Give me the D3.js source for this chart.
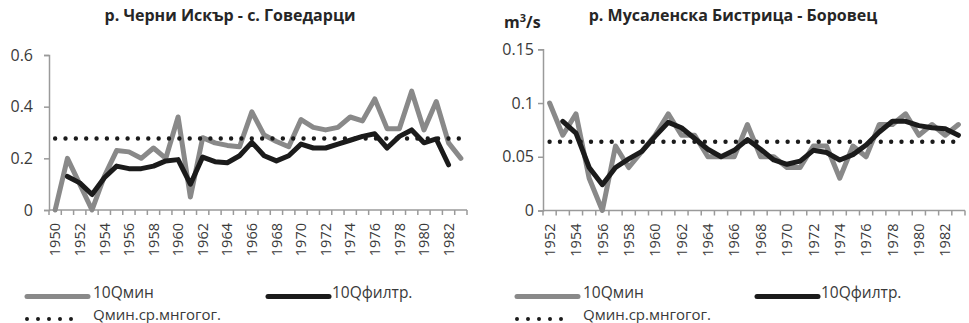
<!DOCTYPE html>
<html>
<head>
<meta charset="utf-8">
<script src="https://cdn.jsdelivr.net/npm/d3@7"></script>
<style>
  html, body { margin: 0; padding: 0; background: #fff; }
  svg { display: block; font-family: "Open Sans", sans-serif; }
</style>
</head>
<body>
<svg id="chart" width="969" height="323"></svg>
<script>
// ---------- data: left panel (р. Черни Искър - с. Говедарци) ----------
const yearsA = [1950,1951,1952,1953,1954,1955,1956,1957,1958,1959,1960,1961,1962,1963,1964,1965,1966,1967,1968,1969,1970,1971,1972,1973,1974,1975,1976,1977,1978,1979,1980,1981,1982,1983];
const qminA = [0,0.2,0.1,0,0.13,0.23,0.225,0.2,0.24,0.2,0.36,0.05,0.28,0.26,0.25,0.245,0.38,0.29,0.265,0.245,0.35,0.32,0.31,0.32,0.36,0.345,0.43,0.315,0.315,0.46,0.31,0.42,0.26,0.2];
const filtA = [null,0.13,0.105,0.06,0.125,0.17,0.16,0.16,0.17,0.19,0.195,0.1,0.205,0.187,0.183,0.21,0.262,0.21,0.19,0.21,0.255,0.24,0.24,0.255,0.27,0.285,0.295,0.24,0.285,0.31,0.26,0.275,0.175,null];
const meanA = [0.277];
const yTicksA = [0, 0.2, 0.4, 0.6];
const yTickLabelsA = ["0", "0.2", "0.4", "0.6"];

// ---------- data: right panel (р. Мусаленска Бистрица - Боровец) ----------
const yearsB = [1952,1953,1954,1955,1956,1957,1958,1959,1960,1961,1962,1963,1964,1965,1966,1967,1968,1969,1970,1971,1972,1973,1974,1975,1976,1977,1978,1979,1980,1981,1982,1983];
const qminB = [0.1,0.07,0.09,0.03,0,0.06,0.04,0.055,0.07,0.09,0.07,0.07,0.05,0.05,0.05,0.08,0.05,0.05,0.04,0.04,0.06,0.06,0.03,0.06,0.05,0.08,0.08,0.09,0.07,0.08,0.07,0.08];
const filtB = [null,0.083,0.072,0.04,0.024,0.04,0.048,0.055,0.069,0.082,0.077,0.067,0.057,0.05,0.056,0.066,0.057,0.047,0.043,0.046,0.056,0.054,0.047,0.052,0.061,0.073,0.083,0.083,0.079,0.077,0.076,0.07];
const meanB = [0.064];
const yTicksB = [0, 0.05, 0.1, 0.15];
const yTickLabelsB = ["0", "0.05", "0.1", "0.15"];

// ---------- texts ----------
const titleA = "р. Черни Искър - с. Говедарци";
const titleB = "р. Мусаленска Бистрица - Боровец";
const legendNames = ["10Qмин", "10Qфилтр.", "Qмин.ср.мнгогог."];

// ---------- styles ----------
const GRAY = "#898989", BLACK = "#1b1b1b", AXIS = "#9a9a9a", TEXT = "#3a3a3a";

const svg = d3.select("#chart");

function panel(o) {
  const g = svg.append("g");
  const x = d3.scaleBand().domain(o.years).range([o.x0, o.x1]).paddingInner(0).paddingOuter(0);
  const y = d3.scaleLinear().domain([0, o.yMax]).range([o.yBottom, o.yTop]);
  const cx = d => x(d) + x.bandwidth() / 2;

  // y axis
  const ya = d3.axisLeft(y).tickValues(o.yTicks).tickSize(5).tickPadding(o.yPad)
    .tickFormat((d, i) => o.yLabels[i]);
  const yg = g.append("g").attr("transform", `translate(${o.x0},0)`).call(ya);
  yg.select(".domain").attr("stroke", AXIS).attr("stroke-width", 1.5);
  yg.selectAll(".tick line").attr("stroke", AXIS).attr("stroke-width", 1.5);
  yg.selectAll(".tick text").attr("fill", TEXT).style("font-size", "16px").style("font-family", "'Open Sans', sans-serif");

  // x axis (ticks at category boundaries)
  const xg = g.append("g");
  xg.append("line").attr("x1", o.x0).attr("x2", o.x1).attr("y1", y(0)).attr("y2", y(0))
    .attr("stroke", AXIS).attr("stroke-width", 1.5);
  const bounds = o.years.map(d => x(d)).concat([x(o.years[o.years.length - 1]) + x.bandwidth()]);
  xg.selectAll("line.tk").data(bounds).join("line").attr("class", "tk")
    .attr("x1", d => d).attr("x2", d => d).attr("y1", y(0)).attr("y2", y(0) + 5)
    .attr("stroke", AXIS).attr("stroke-width", 1.5);
  xg.selectAll("text").data(o.years.filter(d => d % 2 === 0)).join("text")
    .attr("transform", d => `translate(${cx(d)},${y(0) + 13}) rotate(-90)`)
    .attr("text-anchor", "end").attr("dy", "0.36em")
    .attr("fill", TEXT).style("font-size", "14.5px")
    .text(d => d);

  // series
  const lineGen = d3.line().defined(d => d[1] != null).x(d => cx(d[0])).y(d => y(d[1]));
  g.append("path").datum(o.years.map((d, i) => [d, o.qmin[i]]))
    .attr("d", lineGen).attr("fill", "none").attr("stroke", GRAY).attr("stroke-width", 5)
    .attr("stroke-linejoin", "round").attr("stroke-linecap", "round");
  g.append("path").datum(o.years.map((d, i) => [d, o.filt[i]]))
    .attr("d", lineGen).attr("fill", "none").attr("stroke", BLACK).attr("stroke-width", 5)
    .attr("stroke-linejoin", "round").attr("stroke-linecap", "round");
  g.append("path").datum(o.years.map(d => [d, o.mean[0]]))
    .attr("d", lineGen).attr("fill", "none").attr("stroke", BLACK).attr("stroke-width", 4.4)
    .attr("stroke-linecap", "round").attr("stroke-dasharray", o.dash);

  // title
  g.append("text").attr("x", o.titleX).attr("y", 21).attr("text-anchor", "middle")
    .style("font-size", "16px").style("font-weight", "bold").attr("fill", "#262626")
    .text(o.title);

  // legend
  const lg = g.append("g");
  lg.append("line").attr("x1", o.lx).attr("x2", o.lx + 61).attr("y1", 296.5).attr("y2", 296.5)
    .attr("stroke", GRAY).attr("stroke-width", 5).attr("stroke-linecap", "round");
  lg.append("text").attr("x", o.lx + 66).attr("y", 298).attr("fill", TEXT)
    .style("font-size", "15.5px").text(legendNames[0]);
  lg.append("line").attr("x1", o.lx2).attr("x2", o.lx2 + 61).attr("y1", 296.5).attr("y2", 296.5)
    .attr("stroke", BLACK).attr("stroke-width", 5).attr("stroke-linecap", "round");
  lg.append("text").attr("x", o.lx2 + 64).attr("y", 298).attr("fill", TEXT)
    .style("font-size", "15.5px").text(legendNames[1]);
  lg.append("line").attr("x1", o.lx).attr("x2", o.lx + 55).attr("y1", 319).attr("y2", 319)
    .attr("stroke", BLACK).attr("stroke-width", 4).attr("stroke-linecap", "round")
    .attr("stroke-dasharray", "0 11");
  lg.append("text").attr("x", o.lx + 66).attr("y", 320).attr("fill", TEXT)
    .style("font-size", "15px").text(legendNames[2]);
  return g;
}

panel({
  years: yearsA, qmin: qminA, filt: filtA, mean: meanA,
  x0: 49, x1: 467, yTop: 55, yBottom: 210, yMax: 0.6,
  yTicks: yTicksA, yLabels: yTickLabelsA, yPad: 11,
  dash: "0 10.35",
  title: titleA, titleX: 230, lx: 27, lx2: 268
});

const gB = panel({
  years: yearsB, qmin: qminB, filt: filtB, mean: meanB,
  x0: 543, x1: 965, yTop: 49.3, yBottom: 210.5, yMax: 0.15,
  yTicks: yTicksB, yLabels: yTickLabelsB, yPad: 4,
  dash: "0 10.35",
  title: titleB, titleX: 733, lx: 517, lx2: 757
});

// unit label
const unit = gB.append("text").attr("x", 504).attr("y", 28).attr("fill", "#262626")
  .style("font-size", "16px").style("font-weight", "bold");
unit.append("tspan").text("m");
unit.append("tspan").attr("dy", -6).style("font-size", "11px").text("3");
unit.append("tspan").attr("dy", 6).text("/s");
</script>
</body>
</html>
